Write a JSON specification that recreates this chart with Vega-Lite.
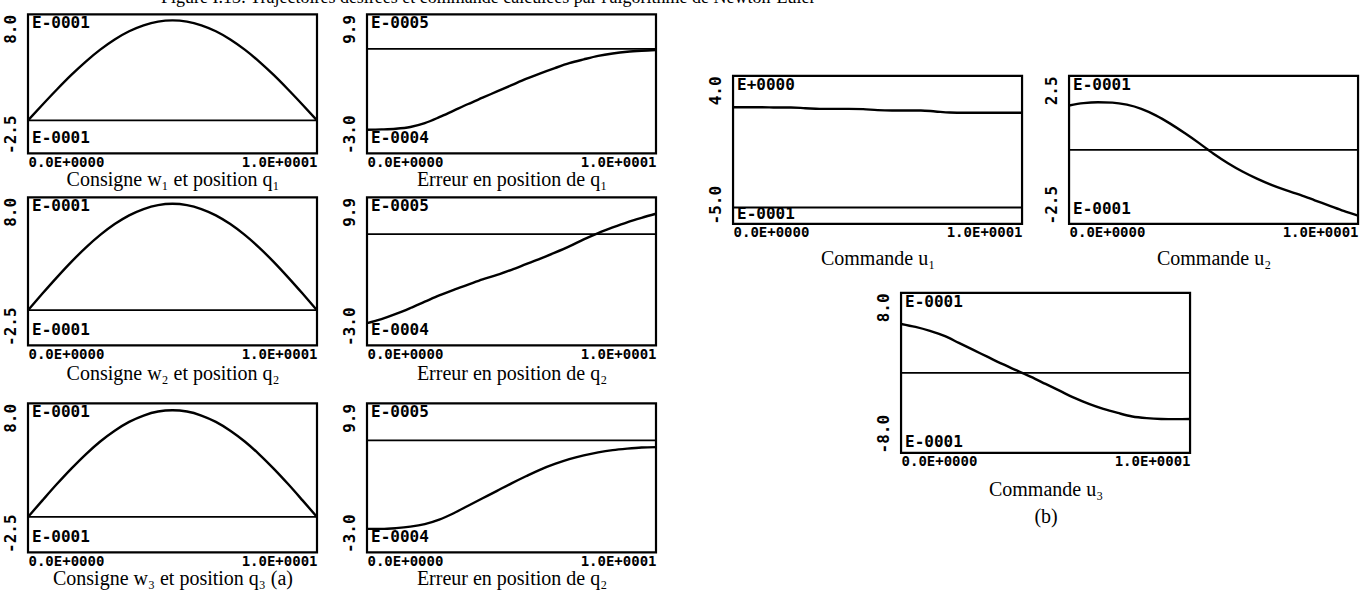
{
  "$schema": "https://vega.github.io/schema/vega-lite/v6.json",
  "background": "white",
  "padding": {"left": 0, "top": -11, "right": 0, "bottom": 0},
  "title": {
    "text": "Figure I.13: Trajectoires désirées et commande calculées par l'algorithme de Newton-Euler",
    "font": "Liberation Serif",
    "fontSize": 18,
    "fontWeight": "normal",
    "color": "black",
    "anchor": "start",
    "dx": 160,
    "offset": 6
  },
  "datasets": {
    "curves": [
      {"panel": "q1", "t": 0, "v": 0}, {"panel": "q1", "t": 0.5, "v": 0.118}, {"panel": "q1", "t": 1, "v": 0.233}, {"panel": "q1", "t": 1.5, "v": 0.343}, {"panel": "q1", "t": 2, "v": 0.444}, {"panel": "q1", "t": 2.5, "v": 0.534}, {"panel": "q1", "t": 3, "v": 0.611}, {"panel": "q1", "t": 3.5, "v": 0.673}, {"panel": "q1", "t": 4, "v": 0.718}, {"panel": "q1", "t": 4.5, "v": 0.746}, {"panel": "q1", "t": 5, "v": 0.755}, {"panel": "q1", "t": 5.5, "v": 0.746}, {"panel": "q1", "t": 6, "v": 0.718}, {"panel": "q1", "t": 6.5, "v": 0.673}, {"panel": "q1", "t": 7, "v": 0.611}, {"panel": "q1", "t": 7.5, "v": 0.534}, {"panel": "q1", "t": 8, "v": 0.444}, {"panel": "q1", "t": 8.5, "v": 0.343}, {"panel": "q1", "t": 9, "v": 0.233}, {"panel": "q1", "t": 9.5, "v": 0.118}, {"panel": "q1", "t": 10, "v": 0},
      {"panel": "q2", "t": 0, "v": 0}, {"panel": "q2", "t": 0.5, "v": 0.118}, {"panel": "q2", "t": 1, "v": 0.233}, {"panel": "q2", "t": 1.5, "v": 0.343}, {"panel": "q2", "t": 2, "v": 0.444}, {"panel": "q2", "t": 2.5, "v": 0.534}, {"panel": "q2", "t": 3, "v": 0.611}, {"panel": "q2", "t": 3.5, "v": 0.673}, {"panel": "q2", "t": 4, "v": 0.718}, {"panel": "q2", "t": 4.5, "v": 0.746}, {"panel": "q2", "t": 5, "v": 0.755}, {"panel": "q2", "t": 5.5, "v": 0.746}, {"panel": "q2", "t": 6, "v": 0.718}, {"panel": "q2", "t": 6.5, "v": 0.673}, {"panel": "q2", "t": 7, "v": 0.611}, {"panel": "q2", "t": 7.5, "v": 0.534}, {"panel": "q2", "t": 8, "v": 0.444}, {"panel": "q2", "t": 8.5, "v": 0.343}, {"panel": "q2", "t": 9, "v": 0.233}, {"panel": "q2", "t": 9.5, "v": 0.118}, {"panel": "q2", "t": 10, "v": 0},
      {"panel": "q3", "t": 0, "v": 0}, {"panel": "q3", "t": 0.5, "v": 0.117}, {"panel": "q3", "t": 1, "v": 0.232}, {"panel": "q3", "t": 1.5, "v": 0.341}, {"panel": "q3", "t": 2, "v": 0.442}, {"panel": "q3", "t": 2.5, "v": 0.532}, {"panel": "q3", "t": 3, "v": 0.608}, {"panel": "q3", "t": 3.5, "v": 0.670}, {"panel": "q3", "t": 4, "v": 0.715}, {"panel": "q3", "t": 4.5, "v": 0.743}, {"panel": "q3", "t": 5, "v": 0.752}, {"panel": "q3", "t": 5.5, "v": 0.743}, {"panel": "q3", "t": 6, "v": 0.715}, {"panel": "q3", "t": 6.5, "v": 0.670}, {"panel": "q3", "t": 7, "v": 0.608}, {"panel": "q3", "t": 7.5, "v": 0.532}, {"panel": "q3", "t": 8, "v": 0.442}, {"panel": "q3", "t": 8.5, "v": 0.341}, {"panel": "q3", "t": 9, "v": 0.232}, {"panel": "q3", "t": 9.5, "v": 0.117}, {"panel": "q3", "t": 10, "v": 0},
      {"panel": "e1", "t": 0, "v": -0.000232}, {"panel": "e1", "t": 0.5, "v": -0.000231}, {"panel": "e1", "t": 1, "v": -0.000229}, {"panel": "e1", "t": 1.5, "v": -0.000224}, {"panel": "e1", "t": 2, "v": -0.000213}, {"panel": "e1", "t": 2.5, "v": -0.000196}, {"panel": "e1", "t": 3, "v": -0.000177}, {"panel": "e1", "t": 3.5, "v": -0.000158}, {"panel": "e1", "t": 4, "v": -0.00014}, {"panel": "e1", "t": 4.5, "v": -0.000122}, {"panel": "e1", "t": 5, "v": -0.000104}, {"panel": "e1", "t": 5.5, "v": -0.000086}, {"panel": "e1", "t": 6, "v": -0.00007}, {"panel": "e1", "t": 6.5, "v": -0.000055}, {"panel": "e1", "t": 7, "v": -0.000041}, {"panel": "e1", "t": 7.5, "v": -0.00003}, {"panel": "e1", "t": 8, "v": -0.00002}, {"panel": "e1", "t": 8.5, "v": -0.000013}, {"panel": "e1", "t": 9, "v": -0.000008}, {"panel": "e1", "t": 9.5, "v": -0.000005}, {"panel": "e1", "t": 10, "v": -0.000003},
      {"panel": "e2", "t": 0, "v": -0.00024}, {"panel": "e2", "t": 0.5, "v": -0.000229}, {"panel": "e2", "t": 1, "v": -0.000215}, {"panel": "e2", "t": 1.5, "v": -0.000199}, {"panel": "e2", "t": 2, "v": -0.000182}, {"panel": "e2", "t": 2.5, "v": -0.000165}, {"panel": "e2", "t": 3, "v": -0.00015}, {"panel": "e2", "t": 3.5, "v": -0.000136}, {"panel": "e2", "t": 4, "v": -0.000122}, {"panel": "e2", "t": 4.5, "v": -0.00011}, {"panel": "e2", "t": 5, "v": -0.000096}, {"panel": "e2", "t": 5.5, "v": -0.000081}, {"panel": "e2", "t": 6, "v": -0.000066}, {"panel": "e2", "t": 6.5, "v": -0.00005}, {"panel": "e2", "t": 7, "v": -0.000033}, {"panel": "e2", "t": 7.5, "v": -0.000014}, {"panel": "e2", "t": 8, "v": 0.000003}, {"panel": "e2", "t": 8.5, "v": 0.000018}, {"panel": "e2", "t": 9, "v": 0.000032}, {"panel": "e2", "t": 9.5, "v": 0.000044}, {"panel": "e2", "t": 10, "v": 0.000055},
      {"panel": "e3", "t": 0, "v": -0.000237}, {"panel": "e3", "t": 0.5, "v": -0.000237}, {"panel": "e3", "t": 1, "v": -0.000235}, {"panel": "e3", "t": 1.5, "v": -0.000231}, {"panel": "e3", "t": 2, "v": -0.000224}, {"panel": "e3", "t": 2.5, "v": -0.000212}, {"panel": "e3", "t": 3, "v": -0.000195}, {"panel": "e3", "t": 3.5, "v": -0.000175}, {"panel": "e3", "t": 4, "v": -0.000155}, {"panel": "e3", "t": 4.5, "v": -0.000135}, {"panel": "e3", "t": 5, "v": -0.000115}, {"panel": "e3", "t": 5.5, "v": -0.000096}, {"panel": "e3", "t": 6, "v": -0.000078}, {"panel": "e3", "t": 6.5, "v": -0.000063}, {"panel": "e3", "t": 7, "v": -0.00005}, {"panel": "e3", "t": 7.5, "v": -0.00004}, {"panel": "e3", "t": 8, "v": -0.000032}, {"panel": "e3", "t": 8.5, "v": -0.000026}, {"panel": "e3", "t": 9, "v": -0.000022}, {"panel": "e3", "t": 9.5, "v": -0.000019}, {"panel": "e3", "t": 10, "v": -0.000018},
      {"panel": "u1", "t": 0, "v": 3.05}, {"panel": "u1", "t": 0.5, "v": 3.05}, {"panel": "u1", "t": 1, "v": 3.05}, {"panel": "u1", "t": 1.5, "v": 3.04}, {"panel": "u1", "t": 2, "v": 3.04}, {"panel": "u1", "t": 2.5, "v": 3.02}, {"panel": "u1", "t": 3, "v": 3.0}, {"panel": "u1", "t": 3.5, "v": 3.0}, {"panel": "u1", "t": 4, "v": 3.0}, {"panel": "u1", "t": 4.5, "v": 2.99}, {"panel": "u1", "t": 5, "v": 2.96}, {"panel": "u1", "t": 5.5, "v": 2.95}, {"panel": "u1", "t": 6, "v": 2.95}, {"panel": "u1", "t": 6.5, "v": 2.95}, {"panel": "u1", "t": 7, "v": 2.92}, {"panel": "u1", "t": 7.5, "v": 2.89}, {"panel": "u1", "t": 8, "v": 2.88}, {"panel": "u1", "t": 8.5, "v": 2.88}, {"panel": "u1", "t": 9, "v": 2.88}, {"panel": "u1", "t": 9.5, "v": 2.88}, {"panel": "u1", "t": 10, "v": 2.88},
      {"panel": "u2", "t": 0, "v": 0.15}, {"panel": "u2", "t": 0.5, "v": 0.158}, {"panel": "u2", "t": 1, "v": 0.161}, {"panel": "u2", "t": 1.5, "v": 0.16}, {"panel": "u2", "t": 2, "v": 0.153}, {"panel": "u2", "t": 2.5, "v": 0.139}, {"panel": "u2", "t": 3, "v": 0.117}, {"panel": "u2", "t": 3.5, "v": 0.089}, {"panel": "u2", "t": 4, "v": 0.057}, {"panel": "u2", "t": 4.5, "v": 0.023}, {"panel": "u2", "t": 5, "v": -0.013}, {"panel": "u2", "t": 5.5, "v": -0.045}, {"panel": "u2", "t": 6, "v": -0.073}, {"panel": "u2", "t": 6.5, "v": -0.097}, {"panel": "u2", "t": 7, "v": -0.118}, {"panel": "u2", "t": 7.5, "v": -0.136}, {"panel": "u2", "t": 8, "v": -0.152}, {"panel": "u2", "t": 8.5, "v": -0.17}, {"panel": "u2", "t": 9, "v": -0.188}, {"panel": "u2", "t": 9.5, "v": -0.206}, {"panel": "u2", "t": 10, "v": -0.222},
      {"panel": "u3", "t": 0, "v": 0.49}, {"panel": "u3", "t": 0.5, "v": 0.46}, {"panel": "u3", "t": 1, "v": 0.42}, {"panel": "u3", "t": 1.5, "v": 0.37}, {"panel": "u3", "t": 2, "v": 0.3}, {"panel": "u3", "t": 2.5, "v": 0.23}, {"panel": "u3", "t": 3, "v": 0.16}, {"panel": "u3", "t": 3.5, "v": 0.09}, {"panel": "u3", "t": 4, "v": 0.025}, {"panel": "u3", "t": 4.5, "v": -0.04}, {"panel": "u3", "t": 5, "v": -0.11}, {"panel": "u3", "t": 5.5, "v": -0.18}, {"panel": "u3", "t": 6, "v": -0.25}, {"panel": "u3", "t": 6.5, "v": -0.31}, {"panel": "u3", "t": 7, "v": -0.36}, {"panel": "u3", "t": 7.5, "v": -0.4}, {"panel": "u3", "t": 8, "v": -0.435}, {"panel": "u3", "t": 8.5, "v": -0.452}, {"panel": "u3", "t": 9, "v": -0.46}, {"panel": "u3", "t": 9.5, "v": -0.462}, {"panel": "u3", "t": 10, "v": -0.46}
    ],
    "refs": [
      {"panel": "q1", "level": 0}, {"panel": "q2", "level": 0}, {"panel": "q3", "level": 0},
      {"panel": "e1", "level": 0}, {"panel": "e2", "level": 0}, {"panel": "e3", "level": 0},
      {"panel": "u1", "level": 0}, {"panel": "u2", "level": 0}, {"panel": "u3", "level": 0}
    ],
    "notes": [
      {"panel": "q1", "edge": "top", "txt": "E-0001"}, {"panel": "q1", "edge": "bottom", "txt": "E-0001"},
      {"panel": "q2", "edge": "top", "txt": "E-0001"}, {"panel": "q2", "edge": "bottom", "txt": "E-0001"},
      {"panel": "q3", "edge": "top", "txt": "E-0001"}, {"panel": "q3", "edge": "bottom", "txt": "E-0001"},
      {"panel": "e1", "edge": "top", "txt": "E-0005"}, {"panel": "e1", "edge": "bottom", "txt": "E-0004"},
      {"panel": "e2", "edge": "top", "txt": "E-0005"}, {"panel": "e2", "edge": "bottom", "txt": "E-0004"},
      {"panel": "e3", "edge": "top", "txt": "E-0005"}, {"panel": "e3", "edge": "bottom", "txt": "E-0004"},
      {"panel": "u1", "edge": "top", "txt": "E+0000"}, {"panel": "u1", "edge": "bottom", "txt": "E-0001"},
      {"panel": "u2", "edge": "top", "txt": "E-0001"}, {"panel": "u2", "edge": "bottom", "txt": "E-0001"},
      {"panel": "u3", "edge": "top", "txt": "E-0001"}, {"panel": "u3", "edge": "bottom", "txt": "E-0001"}
    ]
  },
  "hconcat": [
    {
      "vconcat": [
        {
          "vconcat": [
            {
              "hconcat": [
                {
                  "width": 289, "height": 139,
                  "layer": [
                    {"data": {"name": "curves"}, "transform": [{"filter": "datum.panel == 'q1'"}],
                     "mark": {"type": "line", "interpolate": "monotone", "color": "black", "strokeWidth": 2.4},
                     "encoding": {
                       "x": {"field": "t", "type": "quantitative", "scale": {"domain": [0, 10]}, "axis": {"values": [0, 10], "labelExpr": "datum.value == 0 ? '0.0E+0000' : '1.0E+0001'", "title": "Consigne w₁ et position q₁"}},
                       "y": {"field": "v", "type": "quantitative", "scale": {"domain": [-0.25, 0.8], "nice": false, "zero": false}, "axis": {"values": [-0.25, 0.8], "labelExpr": "datum.value > 0 ? '8.0' : '-2.5'", "labelAlign": {"condition": {"test": "datum.value > 0", "value": "right"}, "value": "left"}, "title": null}}
                     }},
                    {"data": {"name": "refs"}, "transform": [{"filter": "datum.panel == 'q1'"}], "mark": {"type": "rule", "color": "black", "strokeWidth": 1.8}, "encoding": {"y": {"field": "level", "type": "quantitative", "title": null}}},
                    {"data": {"name": "notes"}, "transform": [{"filter": "datum.panel == 'q1' && datum.edge == 'top'"}], "mark": {"type": "text", "align": "left", "baseline": "top", "dx": 4, "dy": 1}, "encoding": {"x": {"datum": 0}, "y": {"datum": 0.8}, "text": {"field": "txt"}}},
                    {"data": {"name": "notes"}, "transform": [{"filter": "datum.panel == 'q1' && datum.edge == 'bottom'"}], "mark": {"type": "text", "align": "left", "baseline": "alphabetic", "dx": 4, "dy": -10}, "encoding": {"x": {"datum": 0}, "y": {"datum": -0.25}, "text": {"field": "txt"}}}
                  ]
                },
                {
                  "width": 289, "height": 139,
                  "layer": [
                    {"data": {"name": "curves"}, "transform": [{"filter": "datum.panel == 'e1'"}],
                     "mark": {"type": "line", "interpolate": "monotone", "color": "black", "strokeWidth": 2.4},
                     "encoding": {
                       "x": {"field": "t", "type": "quantitative", "scale": {"domain": [0, 10]}, "axis": {"values": [0, 10], "labelExpr": "datum.value == 0 ? '0.0E+0000' : '1.0E+0001'", "title": "Erreur en position de q₁"}},
                       "y": {"field": "v", "type": "quantitative", "scale": {"domain": [-0.0003, 0.000099], "nice": false, "zero": false}, "axis": {"values": [-0.0003, 0.000099], "labelExpr": "datum.value > 0 ? '9.9' : '-3.0'", "labelAlign": {"condition": {"test": "datum.value > 0", "value": "right"}, "value": "left"}, "title": null}}
                     }},
                    {"data": {"name": "refs"}, "transform": [{"filter": "datum.panel == 'e1'"}], "mark": {"type": "rule", "color": "black", "strokeWidth": 1.8}, "encoding": {"y": {"field": "level", "type": "quantitative", "title": null}}},
                    {"data": {"name": "notes"}, "transform": [{"filter": "datum.panel == 'e1' && datum.edge == 'top'"}], "mark": {"type": "text", "align": "left", "baseline": "top", "dx": 4, "dy": 1}, "encoding": {"x": {"datum": 0}, "y": {"datum": 0.000099}, "text": {"field": "txt"}}},
                    {"data": {"name": "notes"}, "transform": [{"filter": "datum.panel == 'e1' && datum.edge == 'bottom'"}], "mark": {"type": "text", "align": "left", "baseline": "alphabetic", "dx": 4, "dy": -10}, "encoding": {"x": {"datum": 0}, "y": {"datum": -0.0003}, "text": {"field": "txt"}}}
                  ]
                }
              ],
              "spacing": 16
            },
            {
              "hconcat": [
                {
                  "width": 289, "height": 148,
                  "layer": [
                    {"data": {"name": "curves"}, "transform": [{"filter": "datum.panel == 'q2'"}],
                     "mark": {"type": "line", "interpolate": "monotone", "color": "black", "strokeWidth": 2.4},
                     "encoding": {
                       "x": {"field": "t", "type": "quantitative", "scale": {"domain": [0, 10]}, "axis": {"values": [0, 10], "labelExpr": "datum.value == 0 ? '0.0E+0000' : '1.0E+0001'", "title": "Consigne w₂ et position q₂", "titlePadding": 2}},
                       "y": {"field": "v", "type": "quantitative", "scale": {"domain": [-0.25, 0.8], "nice": false, "zero": false}, "axis": {"values": [-0.25, 0.8], "labelExpr": "datum.value > 0 ? '8.0' : '-2.5'", "labelAlign": {"condition": {"test": "datum.value > 0", "value": "right"}, "value": "left"}, "title": null}}
                     }},
                    {"data": {"name": "refs"}, "transform": [{"filter": "datum.panel == 'q2'"}], "mark": {"type": "rule", "color": "black", "strokeWidth": 1.8}, "encoding": {"y": {"field": "level", "type": "quantitative", "title": null}}},
                    {"data": {"name": "notes"}, "transform": [{"filter": "datum.panel == 'q2' && datum.edge == 'top'"}], "mark": {"type": "text", "align": "left", "baseline": "top", "dx": 4, "dy": 1}, "encoding": {"x": {"datum": 0}, "y": {"datum": 0.8}, "text": {"field": "txt"}}},
                    {"data": {"name": "notes"}, "transform": [{"filter": "datum.panel == 'q2' && datum.edge == 'bottom'"}], "mark": {"type": "text", "align": "left", "baseline": "alphabetic", "dx": 4, "dy": -10}, "encoding": {"x": {"datum": 0}, "y": {"datum": -0.25}, "text": {"field": "txt"}}}
                  ]
                },
                {
                  "width": 289, "height": 148,
                  "layer": [
                    {"data": {"name": "curves"}, "transform": [{"filter": "datum.panel == 'e2'"}],
                     "mark": {"type": "line", "interpolate": "monotone", "color": "black", "strokeWidth": 2.4},
                     "encoding": {
                       "x": {"field": "t", "type": "quantitative", "scale": {"domain": [0, 10]}, "axis": {"values": [0, 10], "labelExpr": "datum.value == 0 ? '0.0E+0000' : '1.0E+0001'", "title": "Erreur en position de q₂", "titlePadding": 2}},
                       "y": {"field": "v", "type": "quantitative", "scale": {"domain": [-0.0003, 0.000099], "nice": false, "zero": false}, "axis": {"values": [-0.0003, 0.000099], "labelExpr": "datum.value > 0 ? '9.9' : '-3.0'", "labelAlign": {"condition": {"test": "datum.value > 0", "value": "right"}, "value": "left"}, "title": null}}
                     }},
                    {"data": {"name": "refs"}, "transform": [{"filter": "datum.panel == 'e2'"}], "mark": {"type": "rule", "color": "black", "strokeWidth": 1.8}, "encoding": {"y": {"field": "level", "type": "quantitative", "title": null}}},
                    {"data": {"name": "notes"}, "transform": [{"filter": "datum.panel == 'e2' && datum.edge == 'top'"}], "mark": {"type": "text", "align": "left", "baseline": "top", "dx": 4, "dy": 1}, "encoding": {"x": {"datum": 0}, "y": {"datum": 0.000099}, "text": {"field": "txt"}}},
                    {"data": {"name": "notes"}, "transform": [{"filter": "datum.panel == 'e2' && datum.edge == 'bottom'"}], "mark": {"type": "text", "align": "left", "baseline": "alphabetic", "dx": 4, "dy": -10}, "encoding": {"x": {"datum": 0}, "y": {"datum": -0.0003}, "text": {"field": "txt"}}}
                  ]
                }
              ],
              "spacing": 16
            }
          ],
          "spacing": 4
        },
        {
          "hconcat": [
            {
              "width": 289, "height": 149,
              "layer": [
                {"data": {"name": "curves"}, "transform": [{"filter": "datum.panel == 'q3'"}],
                 "mark": {"type": "line", "interpolate": "monotone", "color": "black", "strokeWidth": 2.4},
                 "encoding": {
                   "x": {"field": "t", "type": "quantitative", "scale": {"domain": [0, 10]}, "axis": {"values": [0, 10], "labelExpr": "datum.value == 0 ? '0.0E+0000' : '1.0E+0001'", "title": "Consigne w₃ et position q₃    (a)"}},
                   "y": {"field": "v", "type": "quantitative", "scale": {"domain": [-0.25, 0.8], "nice": false, "zero": false}, "axis": {"values": [-0.25, 0.8], "labelExpr": "datum.value > 0 ? '8.0' : '-2.5'", "labelAlign": {"condition": {"test": "datum.value > 0", "value": "right"}, "value": "left"}, "title": null}}
                 }},
                {"data": {"name": "refs"}, "transform": [{"filter": "datum.panel == 'q3'"}], "mark": {"type": "rule", "color": "black", "strokeWidth": 1.8}, "encoding": {"y": {"field": "level", "type": "quantitative", "title": null}}},
                {"data": {"name": "notes"}, "transform": [{"filter": "datum.panel == 'q3' && datum.edge == 'top'"}], "mark": {"type": "text", "align": "left", "baseline": "top", "dx": 4, "dy": 1}, "encoding": {"x": {"datum": 0}, "y": {"datum": 0.8}, "text": {"field": "txt"}}},
                {"data": {"name": "notes"}, "transform": [{"filter": "datum.panel == 'q3' && datum.edge == 'bottom'"}], "mark": {"type": "text", "align": "left", "baseline": "alphabetic", "dx": 4, "dy": -10}, "encoding": {"x": {"datum": 0}, "y": {"datum": -0.25}, "text": {"field": "txt"}}}
              ]
            },
            {
              "width": 289, "height": 149,
              "layer": [
                {"data": {"name": "curves"}, "transform": [{"filter": "datum.panel == 'e3'"}],
                 "mark": {"type": "line", "interpolate": "monotone", "color": "black", "strokeWidth": 2.4},
                 "encoding": {
                   "x": {"field": "t", "type": "quantitative", "scale": {"domain": [0, 10]}, "axis": {"values": [0, 10], "labelExpr": "datum.value == 0 ? '0.0E+0000' : '1.0E+0001'", "title": "Erreur en position de q₂"}},
                   "y": {"field": "v", "type": "quantitative", "scale": {"domain": [-0.0003, 0.000099], "nice": false, "zero": false}, "axis": {"values": [-0.0003, 0.000099], "labelExpr": "datum.value > 0 ? '9.9' : '-3.0'", "labelAlign": {"condition": {"test": "datum.value > 0", "value": "right"}, "value": "left"}, "title": null}}
                 }},
                {"data": {"name": "refs"}, "transform": [{"filter": "datum.panel == 'e3'"}], "mark": {"type": "rule", "color": "black", "strokeWidth": 1.8}, "encoding": {"y": {"field": "level", "type": "quantitative", "title": null}}},
                {"data": {"name": "notes"}, "transform": [{"filter": "datum.panel == 'e3' && datum.edge == 'top'"}], "mark": {"type": "text", "align": "left", "baseline": "top", "dx": 4, "dy": 1}, "encoding": {"x": {"datum": 0}, "y": {"datum": 0.000099}, "text": {"field": "txt"}}},
                {"data": {"name": "notes"}, "transform": [{"filter": "datum.panel == 'e3' && datum.edge == 'bottom'"}], "mark": {"type": "text", "align": "left", "baseline": "alphabetic", "dx": 4, "dy": -10}, "encoding": {"x": {"datum": 0}, "y": {"datum": -0.0003}, "text": {"field": "txt"}}}
              ]
            }
          ],
          "spacing": 16
        }
      ],
      "spacing": 16
    },
    {
      "vconcat": [
        {
          "hconcat": [
            {
              "width": 289, "height": 148,
              "layer": [
                {"data": {"name": "curves"}, "transform": [{"filter": "datum.panel == 'u1'"}],
                 "mark": {"type": "line", "interpolate": "monotone", "color": "black", "strokeWidth": 2.4},
                 "encoding": {
                   "x": {"field": "t", "type": "quantitative", "scale": {"domain": [0, 10]}, "axis": {"values": [0, 10], "labelExpr": "datum.value == 0 ? '0.0E+0000' : '1.0E+0001'", "title": "Commande u₁", "titlePadding": 9}},
                   "y": {"field": "v", "type": "quantitative", "scale": {"domain": [-0.5, 4.0], "nice": false, "zero": false}, "axis": {"values": [-0.5, 4.0], "labelExpr": "datum.value > 0 ? '4.0' : '-5.0'", "labelAlign": {"condition": {"test": "datum.value > 0", "value": "right"}, "value": "left"}, "title": null}}
                 }},
                {"data": {"name": "refs"}, "transform": [{"filter": "datum.panel == 'u1'"}], "mark": {"type": "rule", "color": "black", "strokeWidth": 1.8}, "encoding": {"y": {"field": "level", "type": "quantitative", "title": null}}},
                {"data": {"name": "notes"}, "transform": [{"filter": "datum.panel == 'u1' && datum.edge == 'top'"}], "mark": {"type": "text", "align": "left", "baseline": "top", "dx": 4, "dy": 1}, "encoding": {"x": {"datum": 0}, "y": {"datum": 4.0}, "text": {"field": "txt"}}},
                {"data": {"name": "notes"}, "transform": [{"filter": "datum.panel == 'u1' && datum.edge == 'bottom'"}], "mark": {"type": "text", "align": "left", "baseline": "alphabetic", "dx": 4, "dy": -5}, "encoding": {"x": {"datum": 0}, "y": {"datum": -0.5}, "text": {"field": "txt"}}}
              ]
            },
            {
              "width": 289, "height": 148,
              "layer": [
                {"data": {"name": "curves"}, "transform": [{"filter": "datum.panel == 'u2'"}],
                 "mark": {"type": "line", "interpolate": "monotone", "color": "black", "strokeWidth": 2.4},
                 "encoding": {
                   "x": {"field": "t", "type": "quantitative", "scale": {"domain": [0, 10]}, "axis": {"values": [0, 10], "labelExpr": "datum.value == 0 ? '0.0E+0000' : '1.0E+0001'", "title": "Commande u₂", "titlePadding": 9}},
                   "y": {"field": "v", "type": "quantitative", "scale": {"domain": [-0.25, 0.25], "nice": false, "zero": false}, "axis": {"values": [-0.25, 0.25], "labelExpr": "datum.value > 0 ? '2.5' : '-2.5'", "labelAlign": {"condition": {"test": "datum.value > 0", "value": "right"}, "value": "left"}, "title": null}}
                 }},
                {"data": {"name": "refs"}, "transform": [{"filter": "datum.panel == 'u2'"}], "mark": {"type": "rule", "color": "black", "strokeWidth": 1.8}, "encoding": {"y": {"field": "level", "type": "quantitative", "title": null}}},
                {"data": {"name": "notes"}, "transform": [{"filter": "datum.panel == 'u2' && datum.edge == 'top'"}], "mark": {"type": "text", "align": "left", "baseline": "top", "dx": 4, "dy": 1}, "encoding": {"x": {"datum": 0}, "y": {"datum": 0.25}, "text": {"field": "txt"}}},
                {"data": {"name": "notes"}, "transform": [{"filter": "datum.panel == 'u2' && datum.edge == 'bottom'"}], "mark": {"type": "text", "align": "left", "baseline": "alphabetic", "dx": 4, "dy": -10}, "encoding": {"x": {"datum": 0}, "y": {"datum": -0.25}, "text": {"field": "txt"}}}
              ]
            }
          ],
          "spacing": 13
        },
        {
          "width": 289, "height": 160,
          "layer": [
            {"data": {"name": "curves"}, "transform": [{"filter": "datum.panel == 'u3'"}],
             "mark": {"type": "line", "interpolate": "monotone", "color": "black", "strokeWidth": 2.4},
             "encoding": {
               "x": {"field": "t", "type": "quantitative", "scale": {"domain": [0, 10]}, "axis": {"values": [0, 10], "labelExpr": "datum.value == 0 ? '0.0E+0000' : '1.0E+0001'", "title": ["Commande u₃", "(b)"], "titlePadding": 11, "titleLineHeight": 27}},
               "y": {"field": "v", "type": "quantitative", "scale": {"domain": [-0.8, 0.8], "nice": false, "zero": false}, "axis": {"values": [-0.8, 0.8], "labelExpr": "datum.value > 0 ? '8.0' : '-8.0'", "labelAlign": {"condition": {"test": "datum.value > 0", "value": "right"}, "value": "left"}, "title": null}}
             }},
            {"data": {"name": "refs"}, "transform": [{"filter": "datum.panel == 'u3'"}], "mark": {"type": "rule", "color": "black", "strokeWidth": 1.8}, "encoding": {"y": {"field": "level", "type": "quantitative", "title": null}}},
            {"data": {"name": "notes"}, "transform": [{"filter": "datum.panel == 'u3' && datum.edge == 'top'"}], "mark": {"type": "text", "align": "left", "baseline": "top", "dx": 4, "dy": 1}, "encoding": {"x": {"datum": 0}, "y": {"datum": 0.8}, "text": {"field": "txt"}}},
            {"data": {"name": "notes"}, "transform": [{"filter": "datum.panel == 'u3' && datum.edge == 'bottom'"}], "mark": {"type": "text", "align": "left", "baseline": "alphabetic", "dx": 4, "dy": -6}, "encoding": {"x": {"datum": 0}, "y": {"datum": -0.8}, "text": {"field": "txt"}}}
          ]
        }
      ],
      "spacing": 20,
      "center": true
    }
  ],
  "spacing": 43,
  "center": true,
  "config": {
    "view": {"stroke": "black", "strokeWidth": 2.2},
    "axis": {
      "grid": false, "domain": false, "ticks": false, "tickSize": 0,
      "labelFont": "DejaVu Sans Mono", "labelFontWeight": "bold", "labelFontSize": 16, "labelColor": "black",
      "titleFont": "Liberation Serif", "titleFontWeight": "normal", "titleFontSize": 20, "titleColor": "black"
    },
    "axisX": {"labelFlush": true, "labelPadding": 2, "titlePadding": 0, "labelFontSize": 14},
    "axisY": {"labelAngle": -90, "labelPadding": 10, "labelBaseline": "bottom"},
    "text": {"font": "DejaVu Sans Mono", "fontWeight": "bold", "fontSize": 16, "color": "black"}
  }
}
